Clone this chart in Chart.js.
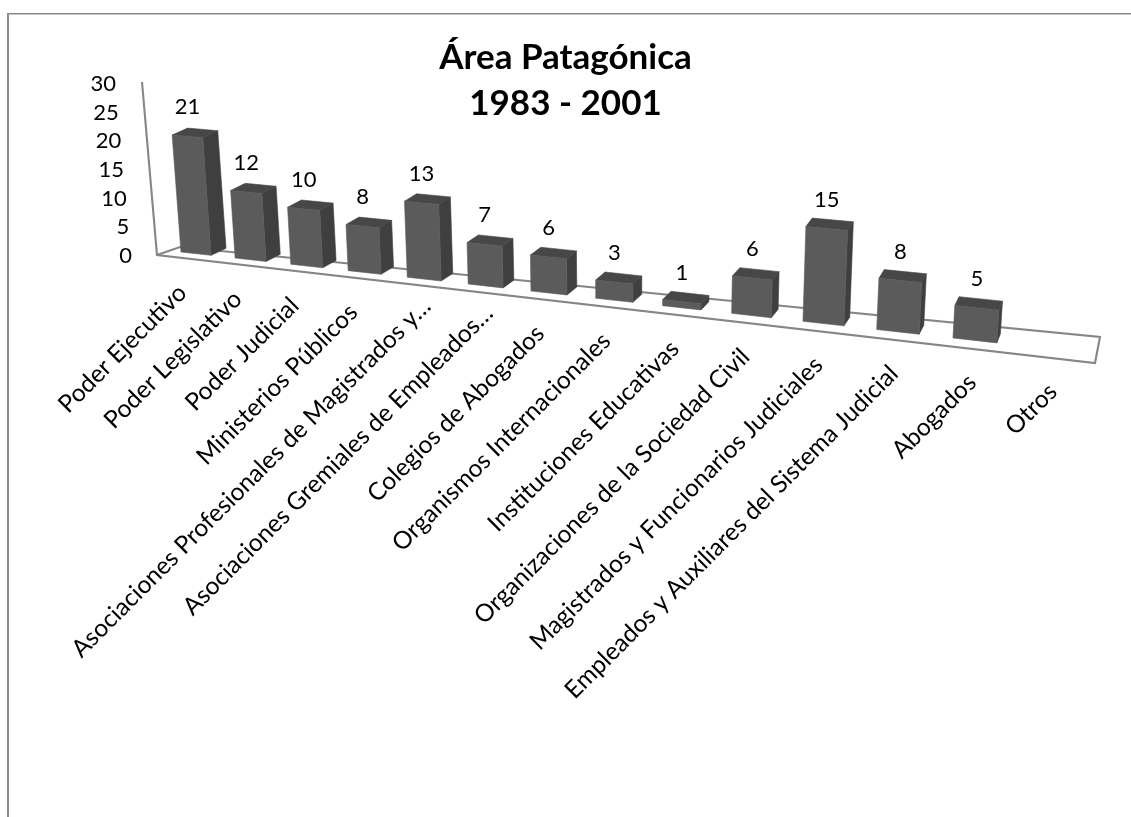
<!DOCTYPE html>
<html><head><meta charset="utf-8">
<style>html,body{margin:0;padding:0;background:#fff;overflow:hidden}canvas{display:block}</style>
<script src="https://cdn.jsdelivr.net/npm/chart.js@4"></script>
</head><body><canvas id="c" width="1131" height="817"></canvas>
<script>
const titleLines = ['Área Patagónica', '1983 - 2001'];
const categories = ['Poder Ejecutivo','Poder Legislativo','Poder Judicial','Ministerios Públicos','Asociaciones Profesionales de Magistrados y…','Asociaciones Gremiales de Empleados…','Colegios de Abogados','Organismos Internacionales','Instituciones Educativas','Organizaciones de la Sociedad Civil','Magistrados y Funcionarios Judiciales','Empleados y Auxiliares del Sistema Judicial','Abogados','Otros'];
const values = [21,12,10,8,13,7,6,3,1,6,15,8,5,null];
const yTicks = [0,5,10,15,20,25,30];

const FONT = 'Lato';
function screenX(U){ return (181+50.78*U)/(1-0.01422*U); }
function project(U,d,vpx){
  const X=screenX(U), y=252+0.1114*(X-181);
  const bx=X+d*(18-0.0145*X), by=y+d*(-6.5-0.0025*X);
  const h=vpx*(5.35+0.0012*X)/5.733, lean=(X-624)/5850;
  return [bx+lean*h, by-h];
}
function poly(ctx,pts,fill){
  ctx.beginPath(); pts.forEach((p,i)=>i?ctx.lineTo(p[0],p[1]):ctx.moveTo(p[0],p[1]));
  ctx.closePath(); ctx.fillStyle=fill; ctx.fill();
  ctx.lineWidth=0.6; ctx.strokeStyle=fill; ctx.stroke();
}
const perspective = {
  id:'perspective',
  beforeDraw(chart){
    const {ctx}=chart, xs=chart.scales.x, ys=chart.scales.y;
    ctx.save();
    ctx.fillStyle='#868686'; ctx.fillRect(7,13,1124,1);
    ctx.fillStyle='#c8c8c8'; ctx.fillRect(9,14,1122,1);
    ctx.fillStyle='#8c8c8c'; ctx.fillRect(7,13,2,804);
    const y0=ys.getPixelForValue(0), yT=ys.getPixelForValue(30);
    ctx.strokeStyle='#868686'; ctx.lineWidth=2.1; ctx.lineJoin='miter';
    ctx.beginPath();
    ctx.moveTo(142,yT-2); ctx.lineTo(157,y0-1);
    ctx.lineTo(1095,363); ctx.lineTo(1100,337); ctx.lineTo(180,247); ctx.lineTo(157,y0-1);
    ctx.stroke();
    ctx.restore();
    ys.getLabelItems(chart.chartArea).forEach(it=>{
      it.options.translation[0]=132-(y0-it.options.translation[1])*0.093;
    });
    const step=(xs.right-xs.left)/categories.length;
    xs.getLabelItems(chart.chartArea).forEach((it,i)=>{
      const U=(xs.getPixelForTick(i)-xs.left)/step-0.22, X=screenX(U);
      const cut=categories[i].endsWith('…')?13:0; // shortened labels sit further along their diagonal
      it.options.translation[0]=X-24+12*(X-196)/858+cut;
      it.options.translation[1]=255+0.115*(X-157)+19-cut;
    });
  },
  beforeDatasetDraw(chart,args){
    const {ctx}=chart, xs=chart.scales.x, ys=chart.scales.y;
    const step=(xs.right-xs.left)/categories.length, y0=ys.getPixelForValue(0);
    args.meta.data.forEach((el,i)=>{
      if(values[i]===null) return;
      const p=el.getProps(['x','y','base','width'],true);
      const U0=(p.x-p.width/2-xs.left)/step-0.22, U1=(p.x+p.width/2-xs.left)/step-0.22;
      const h=y0-p.y;
      const a=project(U0,0,0), b=project(U1,0,0), c=project(U1,0,h), e=project(U0,0,h);
      const b2=project(U1,1,0), c2=project(U1,1,h), e2=project(U0,1,h);
      poly(ctx,[b,b2,c2,c],'#3f3f3f');
      poly(ctx,[e,c,c2,e2],'#474747');
      poly(ctx,[a,b,c,e],'#5b5b5b');
      ctx.save();
      ctx.fillStyle='#000'; ctx.font='22px '+FONT; ctx.textAlign='center'; ctx.textBaseline='middle';
      ctx.fillText(String(values[i]),(e[0]+c[0])/2,(e[1]+c[1])/2-29);
      ctx.restore();
    });
    return false;
  }
};
new Chart(document.getElementById('c'),{
  type:'bar',
  data:{labels:categories,datasets:[{data:values,backgroundColor:'#5b5b5b',barPercentage:0.56,categoryPercentage:1}]},
  options:{
    responsive:false,animation:false,
    layout:{padding:0},
    plugins:{
      legend:{display:false},tooltip:{enabled:false},
      title:{display:true,text:titleLines,color:'#000',align:'center',
        font:{family:FONT,size:35,weight:'bold',lineHeight:1.314},
        padding:{top:35,bottom:84-35-92}}
    },
    scales:{
      x:{type:'category',grid:{display:false},border:{display:false},
        afterFit(s){s.height=817-256;s.paddingLeft=0;s.paddingRight=0;},
        ticks:{autoSkip:false,minRotation:45,maxRotation:45,color:'#000',font:{family:FONT,size:24.5}}},
      y:{type:'linear',min:0,max:30,afterBuildTicks(s){s.ticks=yTicks.map(v=>({value:v}));},
        afterFit(s){s.width=140;s.paddingTop=0;s.paddingBottom=0;},
        grid:{display:false},border:{display:false},
        ticks:{autoSkip:false,color:'#000',font:{family:FONT,size:22}}}
    }
  },
  plugins:[perspective]
});
</script></body></html>
